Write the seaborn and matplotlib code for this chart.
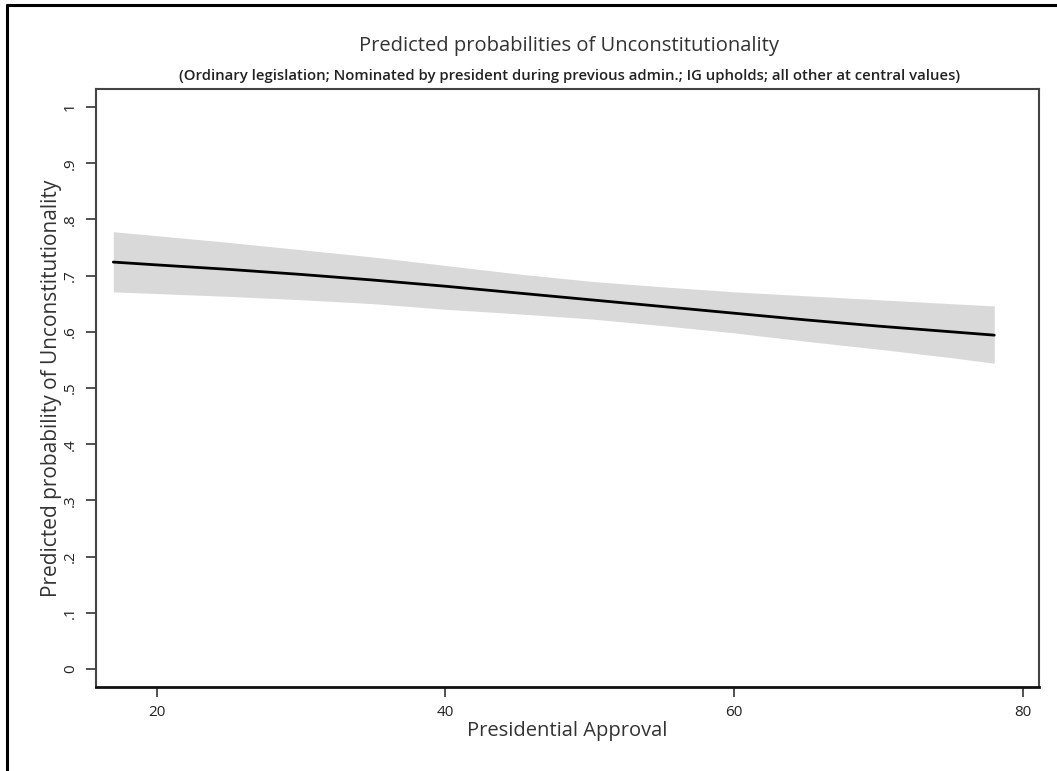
import numpy as np
import pandas as pd
import matplotlib
matplotlib.use("Agg")
import matplotlib.pyplot as plt
import seaborn as sns
from matplotlib.lines import Line2D

# Values
approval = [17, 20, 25, 30, 35, 40, 45, 50, 55, 60, 65, 70, 75, 78]
prob = [0.724, 0.719, 0.711, 0.702, 0.692, 0.681, 0.669, 0.657, 0.645, 0.633, 0.621, 0.610, 0.600, 0.594]
upper = [0.778, 0.771, 0.759, 0.746, 0.733, 0.718, 0.703, 0.690, 0.680, 0.671, 0.664, 0.657, 0.650, 0.646]
lower = [0.671, 0.668, 0.663, 0.657, 0.650, 0.640, 0.632, 0.623, 0.611, 0.598, 0.583, 0.569, 0.554, 0.544]

x_ticks = [20, 40, 60, 80]
y_ticks = [0, 0.1, 0.2, 0.3, 0.4, 0.5, 0.6, 0.7, 0.8, 0.9, 1.0]
y_labels = ["0", ".1", ".2", ".3", ".4", ".5", ".6", ".7", ".8", ".9", "1"]

df = pd.DataFrame({"approval": approval, "prob": prob, "upper": upper, "lower": lower})

sns.set_style("white")
plt.rcParams["font.family"] = ["Open Sans", "DejaVu Sans"]

fig = plt.figure(figsize=(10.57, 7.71), dpi=100)
ax = fig.add_axes([0.0908, 0.109, 0.8922, 0.7756])

ax.fill_between(df["approval"], df["lower"], df["upper"], color="#d9d9d9", linewidth=0)
sns.lineplot(x="approval", y="prob", data=df, color="black", linewidth=2, ax=ax)

ax.set_xlim(15.8, 81.1)
ax.set_ylim(-0.032, 1.032)
ax.set_xticks(x_ticks)
ax.set_xticklabels([str(t) for t in x_ticks])
ax.set_yticks(y_ticks)
ax.set_yticklabels(y_labels, rotation=90, va="center")

ax.tick_params(axis="both", direction="out", length=7, width=1.2, color="#333333",
               labelsize=11, labelcolor="#222222", pad=6)
ax.tick_params(axis="x", bottom=True)
ax.tick_params(axis="y", left=True)

for s in ax.spines.values():
    s.set_visible(True)
    s.set_color("#444444")
    s.set_linewidth(1.5)
ax.spines["bottom"].set_color("#111111")
ax.spines["bottom"].set_linewidth(2)

ax.set_xlabel("Presidential Approval", fontsize=14.5, color="#333333", labelpad=1)
ax.set_ylabel("Predicted probability of Unconstitutionality", fontsize=15, color="#333333", labelpad=1)

fig.text(0.538, 0.94, "Predicted probabilities of Unconstitutionality",
         ha="center", va="center", fontsize=14.5, color="#333333")
fig.text(0.539, 0.901,
         "(Ordinary legislation; Nominated by president during previous admin.; IG upholds; all other at central values)",
         ha="center", va="center", fontsize=10.7, color="#222222", fontweight="semibold")

# outer frame (top and left edges of the screenshot)
fig.add_artist(Line2D([7 / 1057, 7 / 1057], [0, 1 - 5 / 771], transform=fig.transFigure, color="black", linewidth=2.2))
fig.add_artist(Line2D([7 / 1057, 1], [1 - 5 / 771, 1 - 5 / 771], transform=fig.transFigure, color="black", linewidth=2.2))

fig.savefig("out.png", dpi=100)
